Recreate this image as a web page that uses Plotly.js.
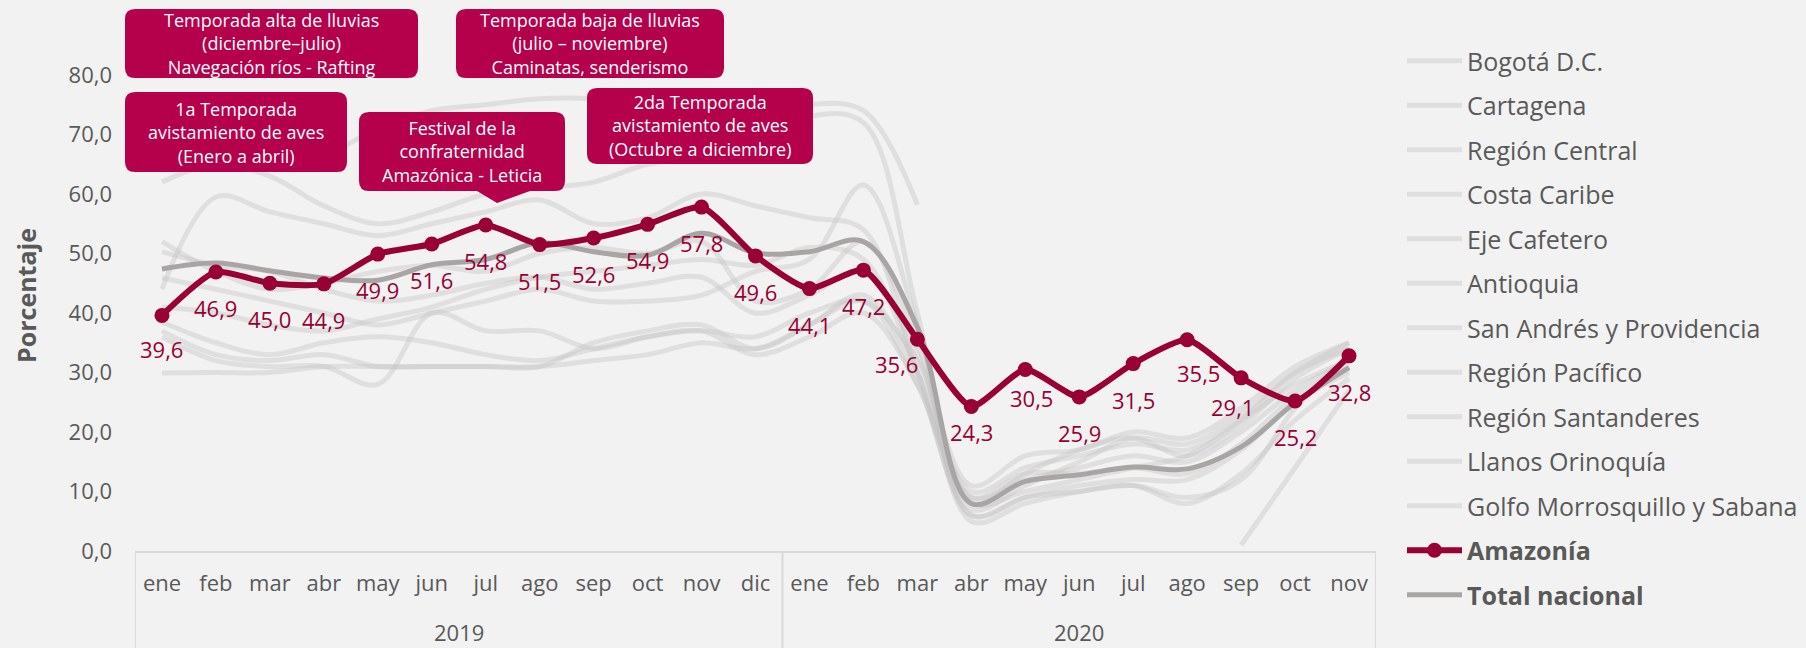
<!DOCTYPE html>
<html><head><meta charset="utf-8">
<script src="https://cdn.plot.ly/plotly-3.0.1.min.js"></script>
<style>html,body{margin:0;padding:0;background:#F2F2F2;} #chart{width:1806px;height:648px;}</style>
</head><body><div id="chart"></div>
<script>
// ---------- DATA ----------
const months = ['ene','feb','mar','abr','may','jun','jul','ago','sep','oct','nov','dic',
                'ene','feb','mar','abr','may','jun','jul','ago','sep','oct','nov'];
const years  = ['2019','2019','2019','2019','2019','2019','2019','2019','2019','2019','2019','2019',
                '2020','2020','2020','2020','2020','2020','2020','2020','2020','2020','2020'];

const amazonia      = [39.6,46.9,45.0,44.9,49.9,51.6,54.8,51.5,52.6,54.9,57.8,49.6,44.1,47.2,35.6,24.3,30.5,25.9,31.5,35.5,29.1,25.2,32.8];
const totalNacional = [47.4,48.4,47.1,45.9,45.5,48.1,49.0,51.8,50.3,49.7,53.4,50.1,50.3,52.0,37.6,8.0,11.7,12.8,14.1,13.8,17.5,24.9,30.8];

const bogota        = [52.0,47.0,44.0,45.0,47.0,48.0,47.0,50.0,51.0,50.0,52.0,42.0,44.0,52.0,35.0,6.0,9.0,11.0,12.0,12.0,17.0,25.0,30.0];
const cartagena     = [62.0,65.0,63.0,58.0,55.0,57.0,60.0,61.0,62.0,65.0,66.0,68.0,73.0,72.0,40.0,5.0,8.0,10.0,11.0,9.0,12.0,24.0,33.0];
const regionCentral = [50.3,48.0,47.0,44.0,42.0,43.0,45.0,46.0,44.0,45.0,46.0,40.0,43.0,47.0,33.0,9.0,12.0,14.0,16.0,15.0,20.0,27.0,32.0];
const costaCaribe   = [44.0,59.5,57.0,55.0,53.0,55.0,57.0,59.0,55.0,56.0,60.0,58.0,56.0,54.0,30.0,7.0,11.0,15.0,19.0,18.0,23.0,30.0,35.0];
const ejeCafetero   = [45.9,44.0,42.0,40.0,38.0,40.0,42.0,44.0,42.0,42.0,43.0,47.0,49.0,61.5,38.0,8.0,13.0,17.0,19.0,16.0,21.0,29.0,34.0];
const antioquia     = [41.0,40.0,38.0,37.0,39.0,41.0,44.0,46.0,47.0,48.0,49.0,48.0,51.0,49.0,30.0,8.0,10.0,12.0,14.0,16.0,22.0,30.0,34.0];
const sanAndres     = [70.0,72.0,70.0,67.0,71.0,74.0,75.0,76.0,76.0,75.0,74.0,72.5,75.0,74.0,58.2,null,null,null,null,null,1.0,14.0,27.0];
const regionPacifico= [38.5,35.0,33.0,35.0,36.0,35.0,33.0,32.0,34.0,36.0,37.0,33.0,36.0,40.0,28.0,6.0,9.0,10.0,11.0,8.0,13.0,22.0,29.0];
const santanderes   = [37.0,33.0,32.0,33.0,31.0,31.0,31.0,31.0,35.0,37.0,38.0,34.0,38.0,43.0,30.0,10.0,14.0,16.0,18.0,17.0,22.0,28.0,32.0];
const llanos        = [36.0,32.0,31.0,31.0,28.0,40.0,37.0,37.0,34.0,36.0,37.0,36.0,40.0,42.0,32.0,11.0,16.0,17.0,20.0,19.0,24.0,31.0,35.0];
const golfo         = [29.9,30.0,30.0,31.0,31.0,31.0,31.0,31.0,32.0,33.0,35.0,34.0,38.0,42.0,28.0,9.0,13.0,13.0,14.0,13.0,18.0,26.0,31.0];

const regionNames = ['Bogotá D.C.','Cartagena','Región Central','Costa Caribe','Eje Cafetero','Antioquia',
  'San Andrés y Providencia','Región Pacífico','Región Santanderes','Llanos Orinoquía','Golfo Morrosquillo y Sabana'];
const regionSeries = [bogota,cartagena,regionCentral,costaCaribe,ejeCafetero,antioquia,
  sanAndres,regionPacifico,santanderes,llanos,golfo];

const yTicks = [0,10,20,30,40,50,60,70,80];

// ---------- STYLE / LAYOUT ----------
const categories = months.map((m,i)=> m + ' ' + years[i]);
const FONT = 'Open Sans, Noto Sans, sans-serif';
const TXT = '#595959';
const RED = '#990033';
const BOX = '#B5004B';

const traces = [];
regionSeries.forEach((s,i)=>{
  traces.push({x:categories, y:s, name:regionNames[i], type:'scatter', mode:'lines',
    legendgroup:'g'+i, legendrank:1+i,
    line:{color:'rgba(195,195,195,0.40)', width:5, shape:'spline', smoothing:1},
    hoverinfo:'skip'});
});
traces.push({x:categories, y:totalNacional, name:'<b>Total nacional</b>', type:'scatter', mode:'lines',
  legendgroup:'gT', legendrank:1002,
  line:{color:'#A9A5A5', width:5, shape:'spline', smoothing:1}});
traces.push({x:categories, y:amazonia, name:'<b>Amazonía</b>', type:'scatter', mode:'lines+markers',
  legendgroup:'gA', legendrank:1001,
  line:{color:RED, width:6, shape:'spline', smoothing:0.6},
  marker:{color:RED, size:15}});

// plot geometry (px)
const L = 135, R = 430, T = 75, B = 97, W = 1806, H = 648;
const PW = W-L-R, PH = H-T-B;
const px = x => (x - L)/PW;
const py = y => (H - B - y)/PH;

function roundRect(x0,y0,x1,y1,r,tip){
  const P = (x,y)=> px(x).toFixed(5)+','+py(y).toFixed(5);
  let d = 'M'+P(x0+r,y0)+' L'+P(x1-r,y0)+' Q'+P(x1,y0)+' '+P(x1,y0+r)+
          ' L'+P(x1,y1-r)+' Q'+P(x1,y1)+' '+P(x1-r,y1);
  if(tip){ d += ' L'+P(tip[2],y1)+' L'+P(tip[1],tip[3])+' L'+P(tip[0],y1); }
  d += ' L'+P(x0+r,y1)+' Q'+P(x0,y1)+' '+P(x0,y1-r)+' L'+P(x0,y0+r)+' Q'+P(x0,y0)+' '+P(x0+r,y0)+' Z';
  return {type:'path', xref:'paper', yref:'paper', path:d, fillcolor:BOX, line:{width:0}, layer:'above'};
}

const callouts = [
  {box:[125,9,418,78], text:'Temporada alta de lluvias<br>(diciembre–julio)<br>Navegación ríos - Rafting'},
  {box:[456,9,724,78], text:'Temporada baja de lluvias<br>(julio – noviembre)<br>Caminatas, senderismo'},
  {box:[125,92,347,172], text:'1a Temporada<br>avistamiento de aves<br>(Enero a abril)'},
  {box:[359,112,565,191], text:'Festival de la<br>confraternidad<br>Amazónica - Leticia', tip:[477,497,530,203]},
  {box:[587,88,813,164], text:'2da Temporada<br>avistamiento de aves<br>(Octubre a diciembre)'}
];

const shapes = [];
const annotations = [];
callouts.forEach(c=>{
  const [x0,y0,x1,y1] = c.box;
  shapes.push(roundRect(x0,y0,x1,y1,10,c.tip));
  annotations.push({xref:'paper', yref:'paper', x:px((x0+x1)/2), y:py((y0+y1)/2),
    xanchor:'center', yanchor:'middle', showarrow:false, text:c.text,
    font:{family:FONT, size:18, color:'#FFFFFF'}});
});

// data labels
const labelShift = {0:[0,-34],14:[-21,-25],15:[0,-26],16:[6,-28],19:[11,-33],20:[-9,-29]};
amazonia.forEach((v,i)=>{
  const s = labelShift[i] || [0,-36];
  annotations.push({x:i, y:v, xref:'x', yref:'y', showarrow:false,
    text: v.toFixed(1).replace('.',','), xshift:s[0], yshift:s[1],
    xanchor:'center', yanchor:'middle',
    font:{family:FONT, size:22, color:RED}});
});

// y axis title
annotations.push({xref:'paper', yref:'paper', x:px(26), y:py(296), showarrow:false,
  text:'<b>Porcentaje</b>', textangle:-90, xanchor:'center', yanchor:'middle',
  font:{family:FONT, size:25, color:TXT}});

// year labels and dividers
const uniqYears = [...new Set(years)];
uniqYears.forEach(yr=>{
  const first = years.indexOf(yr), last = years.lastIndexOf(yr);
  annotations.push({x:(first+last)/2, y:py(632), xref:'x', yref:'paper', showarrow:false,
    text:yr, xanchor:'center', yanchor:'middle', font:{family:FONT, size:22, color:TXT}});
  shapes.push({type:'line', xref:'x', yref:'paper', x0:first-0.5, x1:first-0.5, y0:0, y1:py(648),
    line:{color:'#D9D9D9', width:2}, layer:'below'});
  if(last === years.length-1){
    shapes.push({type:'line', xref:'x', yref:'paper', x0:last+0.5, x1:last+0.5, y0:0, y1:py(648),
      line:{color:'#D9D9D9', width:2}, layer:'below'});
  }
});

const layout = {
  width:W, height:H,
  margin:{l:L, r:R, t:T, b:B, pad:0},
  paper_bgcolor:'#F2F2F2', plot_bgcolor:'#F2F2F2',
  font:{family:FONT, color:TXT, size:22},
  showlegend:true,
  legend:{xref:'container', yref:'container', x:1402/W, y:1-38/H, xanchor:'left', yanchor:'top',
    font:{family:FONT, size:25, color:TXT}, bgcolor:'rgba(0,0,0,0)', tracegroupgap:9,
    itemwidth:55, traceorder:'grouped', maxheight:640},
  xaxis:{type:'category', categoryarray:categories, tickvals:categories, ticktext:months,
    range:[-0.5, categories.length-0.5], showgrid:false, zeroline:false,
    showline:true, linecolor:'#D9D9D9', linewidth:2, ticks:'', ticklabelstandoff:12,
    tickfont:{family:FONT, size:22, color:TXT}, fixedrange:true},
  yaxis:{range:[0,80], tickvals:yTicks, ticktext:yTicks.map(v=>v.toFixed(1).replace('.',',')),
    showgrid:false, zeroline:false, showline:false, ticks:'', ticklabelstandoff:22,
    tickfont:{family:FONT, size:22, color:TXT}},
  shapes:shapes,
  annotations:annotations,
  hovermode:false
};

Plotly.newPlot('chart', traces, layout, {displayModeBar:false, staticPlot:true});
</script></body></html>
